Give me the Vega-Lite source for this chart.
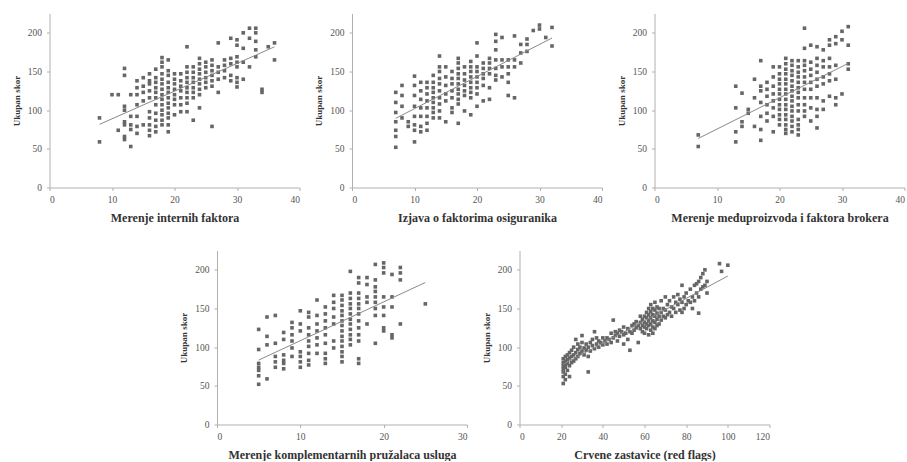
{
"$schema": "https://vega.github.io/schema/vega-lite/v6.json",
"padding": {"left": 11.5, "top": 13.5, "right": 0, "bottom": 0},
"background": "white",
"spacing": 27,
"config": {
"view": {"stroke": null},
"font": "Liberation Serif",
"axis": {"grid": false, "domainColor": "#b0b0b0", "tickColor": "#b0b0b0", "tickSize": 3, "labelColor": "#555555", "labelFontSize": 9.5, "titleFontWeight": "bold", "titleColor": "#333333", "labelFont": "Liberation Serif", "titleFont": "Liberation Serif"},
"axisX": {"labelPadding": 4, "titlePadding": 8, "titleFontSize": 12},
"axisY": {"labelPadding": 5, "titlePadding": 6, "titleFontSize": 9}
},
"datasets": {
"p1": [{"x":8,"y":90},{"x":8,"y":59},{"x":10,"y":120},{"x":11,"y":120},{"x":11,"y":74},{"x":12,"y":154},{"x":12,"y":145},{"x":12,"y":105},{"x":12,"y":100},{"x":12,"y":85},{"x":12,"y":81},{"x":12,"y":66},{"x":12,"y":62},{"x":13,"y":120},{"x":13,"y":81},{"x":13,"y":75},{"x":13,"y":53},{"x":13,"y":92},{"x":14,"y":138},{"x":14,"y":129},{"x":14,"y":120},{"x":14,"y":107},{"x":14,"y":92},{"x":14,"y":79},{"x":14,"y":70},{"x":15,"y":142},{"x":15,"y":131},{"x":15,"y":123},{"x":15,"y":112},{"x":15,"y":81},{"x":16,"y":147},{"x":16,"y":138},{"x":16,"y":134},{"x":16,"y":125},{"x":16,"y":116},{"x":16,"y":98},{"x":16,"y":90},{"x":16,"y":81},{"x":16,"y":74},{"x":16,"y":67},{"x":17,"y":153},{"x":17,"y":142},{"x":17,"y":136},{"x":17,"y":129},{"x":17,"y":123},{"x":17,"y":116},{"x":17,"y":107},{"x":17,"y":96},{"x":17,"y":87},{"x":17,"y":79},{"x":17,"y":72},{"x":18,"y":168},{"x":18,"y":162},{"x":18,"y":156},{"x":18,"y":147},{"x":18,"y":140},{"x":18,"y":134},{"x":18,"y":127},{"x":18,"y":120},{"x":18,"y":114},{"x":18,"y":107},{"x":18,"y":100},{"x":18,"y":94},{"x":18,"y":87},{"x":18,"y":81},{"x":19,"y":165},{"x":19,"y":151},{"x":19,"y":145},{"x":19,"y":136},{"x":19,"y":129},{"x":19,"y":123},{"x":19,"y":116},{"x":19,"y":109},{"x":19,"y":103},{"x":19,"y":96},{"x":19,"y":90},{"x":19,"y":81},{"x":19,"y":72},{"x":20,"y":147},{"x":20,"y":140},{"x":20,"y":134},{"x":20,"y":127},{"x":20,"y":120},{"x":20,"y":114},{"x":20,"y":107},{"x":20,"y":94},{"x":21,"y":147},{"x":21,"y":138},{"x":21,"y":131},{"x":21,"y":125},{"x":21,"y":116},{"x":21,"y":107},{"x":21,"y":98},{"x":22,"y":182},{"x":22,"y":156},{"x":22,"y":149},{"x":22,"y":142},{"x":22,"y":136},{"x":22,"y":129},{"x":22,"y":123},{"x":22,"y":116},{"x":22,"y":109},{"x":22,"y":98},{"x":23,"y":156},{"x":23,"y":149},{"x":23,"y":142},{"x":23,"y":136},{"x":23,"y":129},{"x":23,"y":123},{"x":23,"y":116},{"x":23,"y":87},{"x":24,"y":167},{"x":24,"y":160},{"x":24,"y":153},{"x":24,"y":147},{"x":24,"y":140},{"x":24,"y":134},{"x":24,"y":127},{"x":24,"y":120},{"x":24,"y":103},{"x":25,"y":162},{"x":25,"y":156},{"x":25,"y":149},{"x":25,"y":142},{"x":25,"y":136},{"x":25,"y":129},{"x":26,"y":165},{"x":26,"y":158},{"x":26,"y":151},{"x":26,"y":145},{"x":26,"y":138},{"x":26,"y":131},{"x":26,"y":79},{"x":27,"y":187},{"x":27,"y":156},{"x":27,"y":149},{"x":27,"y":140},{"x":27,"y":123},{"x":28,"y":165},{"x":28,"y":158},{"x":28,"y":151},{"x":28,"y":142},{"x":29,"y":193},{"x":29,"y":167},{"x":29,"y":160},{"x":29,"y":145},{"x":29,"y":138},{"x":30,"y":191},{"x":30,"y":184},{"x":30,"y":169},{"x":30,"y":162},{"x":30,"y":156},{"x":30,"y":142},{"x":30,"y":136},{"x":30,"y":130},{"x":31,"y":200},{"x":31,"y":180},{"x":31,"y":162},{"x":31,"y":140},{"x":32,"y":206},{"x":32,"y":193},{"x":32,"y":156},{"x":33,"y":206},{"x":33,"y":200},{"x":33,"y":189},{"x":33,"y":178},{"x":33,"y":169},{"x":34,"y":127},{"x":34,"y":123},{"x":35,"y":182},{"x":36,"y":187},{"x":36,"y":165}],
"p2": [{"x":7,"y":123},{"x":7,"y":110},{"x":7,"y":97},{"x":7,"y":85},{"x":7,"y":74},{"x":7,"y":66},{"x":7,"y":52},{"x":8,"y":132},{"x":8,"y":119},{"x":8,"y":105},{"x":8,"y":90},{"x":9,"y":85},{"x":9,"y":79},{"x":10,"y":144},{"x":10,"y":132},{"x":10,"y":119},{"x":10,"y":105},{"x":10,"y":92},{"x":10,"y":81},{"x":10,"y":74},{"x":10,"y":59},{"x":11,"y":136},{"x":11,"y":125},{"x":11,"y":114},{"x":11,"y":103},{"x":11,"y":92},{"x":11,"y":79},{"x":11,"y":72},{"x":12,"y":136},{"x":12,"y":129},{"x":12,"y":121},{"x":12,"y":112},{"x":12,"y":103},{"x":12,"y":92},{"x":12,"y":83},{"x":12,"y":74},{"x":13,"y":145},{"x":13,"y":136},{"x":13,"y":129},{"x":13,"y":123},{"x":13,"y":116},{"x":13,"y":110},{"x":13,"y":103},{"x":13,"y":97},{"x":13,"y":90},{"x":14,"y":170},{"x":14,"y":156},{"x":14,"y":150},{"x":14,"y":141},{"x":14,"y":134},{"x":14,"y":125},{"x":14,"y":116},{"x":14,"y":108},{"x":14,"y":99},{"x":14,"y":90},{"x":15,"y":156},{"x":15,"y":143},{"x":15,"y":132},{"x":15,"y":121},{"x":15,"y":112},{"x":15,"y":85},{"x":16,"y":150},{"x":16,"y":141},{"x":16,"y":134},{"x":16,"y":125},{"x":16,"y":116},{"x":16,"y":103},{"x":16,"y":97},{"x":17,"y":167},{"x":17,"y":161},{"x":17,"y":154},{"x":17,"y":147},{"x":17,"y":141},{"x":17,"y":134},{"x":17,"y":127},{"x":17,"y":121},{"x":17,"y":114},{"x":17,"y":108},{"x":17,"y":83},{"x":18,"y":156},{"x":18,"y":147},{"x":18,"y":139},{"x":18,"y":132},{"x":18,"y":125},{"x":18,"y":119},{"x":18,"y":99},{"x":19,"y":163},{"x":19,"y":156},{"x":19,"y":150},{"x":19,"y":143},{"x":19,"y":136},{"x":19,"y":129},{"x":19,"y":123},{"x":19,"y":116},{"x":19,"y":94},{"x":20,"y":187},{"x":20,"y":170},{"x":20,"y":156},{"x":20,"y":150},{"x":20,"y":143},{"x":20,"y":136},{"x":20,"y":129},{"x":20,"y":121},{"x":20,"y":105},{"x":21,"y":161},{"x":21,"y":154},{"x":21,"y":147},{"x":21,"y":141},{"x":21,"y":132},{"x":21,"y":112},{"x":22,"y":167},{"x":22,"y":161},{"x":22,"y":154},{"x":22,"y":147},{"x":22,"y":129},{"x":22,"y":114},{"x":23,"y":198},{"x":23,"y":189},{"x":23,"y":178},{"x":23,"y":165},{"x":23,"y":154},{"x":23,"y":145},{"x":23,"y":139},{"x":24,"y":194},{"x":24,"y":165},{"x":24,"y":156},{"x":24,"y":143},{"x":25,"y":165},{"x":25,"y":156},{"x":25,"y":147},{"x":25,"y":136},{"x":25,"y":119},{"x":26,"y":196},{"x":26,"y":165},{"x":26,"y":156},{"x":26,"y":116},{"x":27,"y":185},{"x":27,"y":174},{"x":27,"y":161},{"x":28,"y":192},{"x":28,"y":185},{"x":28,"y":176},{"x":29,"y":203},{"x":30,"y":210},{"x":30,"y":205},{"x":31,"y":194},{"x":32,"y":207},{"x":32,"y":183}],
"p3": [{"x":7,"y":68},{"x":7,"y":53},{"x":13,"y":131},{"x":13,"y":103},{"x":13,"y":72},{"x":13,"y":59},{"x":14,"y":122},{"x":14,"y":85},{"x":14,"y":79},{"x":15,"y":101},{"x":15,"y":96},{"x":16,"y":140},{"x":16,"y":116},{"x":16,"y":79},{"x":17,"y":164},{"x":17,"y":131},{"x":17,"y":125},{"x":17,"y":110},{"x":17,"y":92},{"x":17,"y":75},{"x":17,"y":61},{"x":18,"y":136},{"x":18,"y":127},{"x":18,"y":118},{"x":18,"y":107},{"x":18,"y":96},{"x":18,"y":86},{"x":19,"y":156},{"x":19,"y":143},{"x":19,"y":131},{"x":19,"y":121},{"x":19,"y":112},{"x":19,"y":103},{"x":19,"y":92},{"x":19,"y":72},{"x":20,"y":156},{"x":20,"y":147},{"x":20,"y":140},{"x":20,"y":134},{"x":20,"y":127},{"x":20,"y":121},{"x":20,"y":114},{"x":20,"y":107},{"x":20,"y":101},{"x":20,"y":94},{"x":20,"y":88},{"x":20,"y":81},{"x":21,"y":167},{"x":21,"y":160},{"x":21,"y":153},{"x":21,"y":147},{"x":21,"y":140},{"x":21,"y":134},{"x":21,"y":127},{"x":21,"y":121},{"x":21,"y":114},{"x":21,"y":107},{"x":21,"y":101},{"x":21,"y":94},{"x":21,"y":88},{"x":21,"y":81},{"x":21,"y":75},{"x":21,"y":70},{"x":22,"y":164},{"x":22,"y":158},{"x":22,"y":151},{"x":22,"y":145},{"x":22,"y":138},{"x":22,"y":131},{"x":22,"y":125},{"x":22,"y":118},{"x":22,"y":112},{"x":22,"y":105},{"x":22,"y":99},{"x":22,"y":92},{"x":22,"y":86},{"x":22,"y":79},{"x":22,"y":72},{"x":23,"y":164},{"x":23,"y":156},{"x":23,"y":149},{"x":23,"y":143},{"x":23,"y":136},{"x":23,"y":129},{"x":23,"y":123},{"x":23,"y":116},{"x":23,"y":107},{"x":23,"y":99},{"x":23,"y":88},{"x":23,"y":81},{"x":23,"y":75},{"x":23,"y":68},{"x":24,"y":206},{"x":24,"y":180},{"x":24,"y":164},{"x":24,"y":158},{"x":24,"y":151},{"x":24,"y":143},{"x":24,"y":136},{"x":24,"y":127},{"x":24,"y":116},{"x":24,"y":107},{"x":24,"y":99},{"x":24,"y":92},{"x":25,"y":184},{"x":25,"y":162},{"x":25,"y":153},{"x":25,"y":145},{"x":25,"y":136},{"x":25,"y":127},{"x":25,"y":116},{"x":25,"y":103},{"x":25,"y":86},{"x":26,"y":182},{"x":26,"y":167},{"x":26,"y":158},{"x":26,"y":149},{"x":26,"y":140},{"x":26,"y":131},{"x":26,"y":116},{"x":26,"y":101},{"x":26,"y":92},{"x":26,"y":77},{"x":27,"y":178},{"x":27,"y":164},{"x":27,"y":156},{"x":27,"y":143},{"x":27,"y":134},{"x":27,"y":112},{"x":27,"y":101},{"x":28,"y":191},{"x":28,"y":184},{"x":28,"y":167},{"x":28,"y":156},{"x":28,"y":147},{"x":28,"y":138},{"x":28,"y":118},{"x":29,"y":195},{"x":29,"y":186},{"x":29,"y":158},{"x":29,"y":140},{"x":29,"y":116},{"x":29,"y":107},{"x":30,"y":202},{"x":30,"y":191},{"x":30,"y":121},{"x":31,"y":208},{"x":31,"y":184},{"x":31,"y":160},{"x":31,"y":153}],
"p4": [{"x":5,"y":123},{"x":5,"y":97},{"x":5,"y":79},{"x":5,"y":74},{"x":5,"y":70},{"x":5,"y":63},{"x":5,"y":52},{"x":6,"y":139},{"x":6,"y":114},{"x":6,"y":103},{"x":6,"y":59},{"x":7,"y":141},{"x":7,"y":105},{"x":7,"y":88},{"x":7,"y":81},{"x":7,"y":74},{"x":8,"y":119},{"x":8,"y":110},{"x":8,"y":90},{"x":8,"y":83},{"x":8,"y":79},{"x":8,"y":72},{"x":9,"y":132},{"x":9,"y":125},{"x":9,"y":116},{"x":9,"y":108},{"x":9,"y":99},{"x":9,"y":88},{"x":10,"y":147},{"x":10,"y":130},{"x":10,"y":121},{"x":10,"y":94},{"x":10,"y":88},{"x":10,"y":81},{"x":10,"y":74},{"x":11,"y":145},{"x":11,"y":139},{"x":11,"y":125},{"x":11,"y":116},{"x":11,"y":108},{"x":11,"y":101},{"x":11,"y":92},{"x":11,"y":83},{"x":11,"y":77},{"x":12,"y":161},{"x":12,"y":141},{"x":12,"y":130},{"x":12,"y":121},{"x":12,"y":112},{"x":12,"y":103},{"x":12,"y":92},{"x":13,"y":152},{"x":13,"y":143},{"x":13,"y":134},{"x":13,"y":125},{"x":13,"y":116},{"x":13,"y":105},{"x":13,"y":92},{"x":13,"y":85},{"x":13,"y":79},{"x":14,"y":167},{"x":14,"y":158},{"x":14,"y":150},{"x":14,"y":139},{"x":14,"y":130},{"x":14,"y":108},{"x":14,"y":99},{"x":15,"y":167},{"x":15,"y":161},{"x":15,"y":154},{"x":15,"y":147},{"x":15,"y":141},{"x":15,"y":134},{"x":15,"y":128},{"x":15,"y":121},{"x":15,"y":114},{"x":15,"y":108},{"x":15,"y":101},{"x":15,"y":94},{"x":15,"y":88},{"x":15,"y":81},{"x":16,"y":198},{"x":16,"y":170},{"x":16,"y":163},{"x":16,"y":156},{"x":16,"y":150},{"x":16,"y":143},{"x":16,"y":136},{"x":16,"y":130},{"x":16,"y":123},{"x":16,"y":116},{"x":16,"y":110},{"x":16,"y":103},{"x":17,"y":190},{"x":17,"y":183},{"x":17,"y":170},{"x":17,"y":163},{"x":17,"y":156},{"x":17,"y":150},{"x":17,"y":143},{"x":17,"y":134},{"x":17,"y":125},{"x":17,"y":116},{"x":17,"y":108},{"x":17,"y":85},{"x":17,"y":79},{"x":18,"y":190},{"x":18,"y":181},{"x":18,"y":165},{"x":18,"y":158},{"x":18,"y":130},{"x":19,"y":207},{"x":19,"y":187},{"x":19,"y":178},{"x":19,"y":172},{"x":19,"y":165},{"x":19,"y":158},{"x":19,"y":150},{"x":19,"y":141},{"x":19,"y":105},{"x":20,"y":209},{"x":20,"y":203},{"x":20,"y":196},{"x":20,"y":165},{"x":20,"y":152},{"x":20,"y":141},{"x":20,"y":125},{"x":20,"y":121},{"x":21,"y":194},{"x":21,"y":165},{"x":21,"y":152},{"x":21,"y":116},{"x":21,"y":112},{"x":22,"y":203},{"x":22,"y":196},{"x":22,"y":187},{"x":22,"y":130},{"x":25,"y":156}],
"p5": [{"x":21,"y":53},{"x":21,"y":62},{"x":21,"y":68},{"x":21,"y":72},{"x":21,"y":76},{"x":21,"y":80},{"x":21,"y":85},{"x":22,"y":58},{"x":22,"y":65},{"x":22,"y":74},{"x":22,"y":78},{"x":22,"y":82},{"x":22,"y":88},{"x":23,"y":70},{"x":23,"y":79},{"x":23,"y":84},{"x":23,"y":90},{"x":24,"y":62},{"x":24,"y":76},{"x":24,"y":86},{"x":24,"y":93},{"x":25,"y":80},{"x":25,"y":88},{"x":25,"y":96},{"x":26,"y":82},{"x":26,"y":90},{"x":26,"y":100},{"x":27,"y":85},{"x":27,"y":93},{"x":27,"y":110},{"x":28,"y":88},{"x":28,"y":97},{"x":28,"y":104},{"x":29,"y":92},{"x":29,"y":100},{"x":30,"y":95},{"x":30,"y":106},{"x":30,"y":115},{"x":31,"y":90},{"x":31,"y":99},{"x":32,"y":96},{"x":32,"y":104},{"x":33,"y":68},{"x":33,"y":88},{"x":33,"y":100},{"x":34,"y":95},{"x":34,"y":106},{"x":35,"y":102},{"x":35,"y":110},{"x":36,"y":98},{"x":36,"y":120},{"x":37,"y":104},{"x":37,"y":112},{"x":38,"y":100},{"x":38,"y":108},{"x":39,"y":106},{"x":40,"y":103},{"x":40,"y":112},{"x":41,"y":108},{"x":42,"y":104},{"x":42,"y":112},{"x":43,"y":110},{"x":44,"y":106},{"x":44,"y":118},{"x":45,"y":112},{"x":45,"y":135},{"x":46,"y":115},{"x":46,"y":120},{"x":47,"y":108},{"x":47,"y":118},{"x":48,"y":114},{"x":48,"y":122},{"x":49,"y":120},{"x":50,"y":104},{"x":50,"y":116},{"x":50,"y":126},{"x":51,"y":118},{"x":52,"y":110},{"x":52,"y":124},{"x":53,"y":96},{"x":53,"y":120},{"x":54,"y":118},{"x":54,"y":128},{"x":55,"y":122},{"x":55,"y":130},{"x":56,"y":125},{"x":56,"y":133},{"x":57,"y":106},{"x":57,"y":128},{"x":58,"y":124},{"x":58,"y":132},{"x":58,"y":140},{"x":59,"y":120},{"x":59,"y":128},{"x":59,"y":136},{"x":60,"y":118},{"x":60,"y":126},{"x":60,"y":132},{"x":60,"y":140},{"x":61,"y":124},{"x":61,"y":130},{"x":61,"y":138},{"x":61,"y":145},{"x":62,"y":116},{"x":62,"y":128},{"x":62,"y":134},{"x":62,"y":142},{"x":62,"y":150},{"x":63,"y":122},{"x":63,"y":130},{"x":63,"y":138},{"x":63,"y":146},{"x":63,"y":155},{"x":64,"y":118},{"x":64,"y":126},{"x":64,"y":134},{"x":64,"y":142},{"x":64,"y":150},{"x":65,"y":124},{"x":65,"y":132},{"x":65,"y":140},{"x":65,"y":148},{"x":65,"y":158},{"x":66,"y":128},{"x":66,"y":136},{"x":66,"y":144},{"x":66,"y":152},{"x":67,"y":130},{"x":67,"y":140},{"x":67,"y":150},{"x":68,"y":135},{"x":68,"y":145},{"x":68,"y":160},{"x":69,"y":140},{"x":69,"y":150},{"x":70,"y":138},{"x":70,"y":148},{"x":70,"y":165},{"x":71,"y":142},{"x":71,"y":155},{"x":72,"y":145},{"x":72,"y":160},{"x":73,"y":140},{"x":73,"y":152},{"x":74,"y":150},{"x":74,"y":165},{"x":75,"y":145},{"x":75,"y":158},{"x":76,"y":155},{"x":76,"y":168},{"x":77,"y":148},{"x":77,"y":162},{"x":78,"y":145},{"x":78,"y":158},{"x":78,"y":180},{"x":79,"y":150},{"x":79,"y":165},{"x":80,"y":155},{"x":80,"y":170},{"x":81,"y":160},{"x":82,"y":158},{"x":82,"y":175},{"x":83,"y":150},{"x":83,"y":165},{"x":84,"y":160},{"x":84,"y":180},{"x":85,"y":170},{"x":85,"y":182},{"x":86,"y":144},{"x":86,"y":165},{"x":86,"y":185},{"x":87,"y":175},{"x":87,"y":190},{"x":88,"y":178},{"x":88,"y":195},{"x":89,"y":180},{"x":89,"y":200},{"x":90,"y":170},{"x":90,"y":185},{"x":96,"y":208},{"x":97,"y":198},{"x":100,"y":206}]
},
"vconcat": [
{"spacing": 13.5, "hconcat": [
{"width": 250, "height": 174, "data": {"name": "p1"}, "layer": [
{"mark": {"type": "point", "shape": "square", "filled": true, "size": 13, "color": "#666666", "opacity": 1}, "encoding": {"x": {"field": "x", "type": "quantitative", "scale": {"domain": [0, 40], "nice": false}, "axis": {"values": [0, 10, 20, 30, 40], "title": "Merenje internih faktora"}}, "y": {"field": "y", "type": "quantitative", "scale": {"domain": [0, 225], "nice": false}, "axis": {"values": [0, 25, 50, 75, 100, 125, 150, 175, 200, 225], "title": "Ukupan skor"}}}},
{"mark": {"type": "line", "color": "#8a8a8a", "strokeWidth": 1}, "transform": [{"regression": "y", "on": "x"}], "encoding": {"x": {"field": "x", "type": "quantitative"}, "y": {"field": "y", "type": "quantitative"}}}
]},
{"width": 250, "height": 174, "data": {"name": "p2"}, "layer": [
{"mark": {"type": "point", "shape": "square", "filled": true, "size": 13, "color": "#666666", "opacity": 1}, "encoding": {"x": {"field": "x", "type": "quantitative", "scale": {"domain": [0, 40], "nice": false}, "axis": {"values": [0, 10, 20, 30, 40], "title": "Izjava o faktorima osiguranika"}}, "y": {"field": "y", "type": "quantitative", "scale": {"domain": [0, 225], "nice": false}, "axis": {"values": [0, 25, 50, 75, 100, 125, 150, 175, 200, 225], "title": "Ukupan skor"}}}},
{"mark": {"type": "line", "color": "#8a8a8a", "strokeWidth": 1}, "transform": [{"regression": "y", "on": "x"}], "encoding": {"x": {"field": "x", "type": "quantitative"}, "y": {"field": "y", "type": "quantitative"}}}
]},
{"width": 250, "height": 174, "data": {"name": "p3"}, "layer": [
{"mark": {"type": "point", "shape": "square", "filled": true, "size": 13, "color": "#666666", "opacity": 1}, "encoding": {"x": {"field": "x", "type": "quantitative", "scale": {"domain": [0, 40], "nice": false}, "axis": {"values": [0, 10, 20, 30, 40], "title": "Merenje međuproizvoda i faktora brokera"}}, "y": {"field": "y", "type": "quantitative", "scale": {"domain": [0, 225], "nice": false}, "axis": {"values": [0, 25, 50, 75, 100, 125, 150, 175, 200, 225], "title": "Ukupan skor"}}}},
{"mark": {"type": "line", "color": "#8a8a8a", "strokeWidth": 1}, "transform": [{"regression": "y", "on": "x"}], "encoding": {"x": {"field": "x", "type": "quantitative"}, "y": {"field": "y", "type": "quantitative"}}}
]}
]},
{"spacing": 13.5, "hconcat": [
{"width": 116, "height": 174, "data": {"values": []}, "mark": "point", "encoding": {}},
{"width": 250, "height": 174, "data": {"name": "p4"}, "layer": [
{"mark": {"type": "point", "shape": "square", "filled": true, "size": 13, "color": "#666666", "opacity": 1}, "encoding": {"x": {"field": "x", "type": "quantitative", "scale": {"domain": [0, 30], "nice": false}, "axis": {"values": [0, 10, 20, 30], "title": "Merenje komplementarnih pružalaca usluga"}}, "y": {"field": "y", "type": "quantitative", "scale": {"domain": [0, 225], "nice": false}, "axis": {"values": [0, 25, 50, 75, 100, 125, 150, 175, 200, 225], "title": "Ukupan skor"}}}},
{"mark": {"type": "line", "color": "#8a8a8a", "strokeWidth": 1}, "transform": [{"regression": "y", "on": "x"}], "encoding": {"x": {"field": "x", "type": "quantitative"}, "y": {"field": "y", "type": "quantitative"}}}
]},
{"width": 250, "height": 174, "data": {"name": "p5"}, "layer": [
{"mark": {"type": "point", "shape": "square", "filled": true, "size": 13, "color": "#666666", "opacity": 1}, "encoding": {"x": {"field": "x", "type": "quantitative", "scale": {"domain": [0, 120], "nice": false}, "axis": {"values": [0, 20, 40, 60, 80, 100, 120], "title": "Crvene zastavice (red flags)"}}, "y": {"field": "y", "type": "quantitative", "scale": {"domain": [0, 225], "nice": false}, "axis": {"values": [0, 25, 50, 75, 100, 125, 150, 175, 200, 225], "title": "Ukupan skor"}}}},
{"mark": {"type": "line", "color": "#8a8a8a", "strokeWidth": 1}, "transform": [{"regression": "y", "on": "x"}], "encoding": {"x": {"field": "x", "type": "quantitative"}, "y": {"field": "y", "type": "quantitative"}}}
]}
]}
]
}
